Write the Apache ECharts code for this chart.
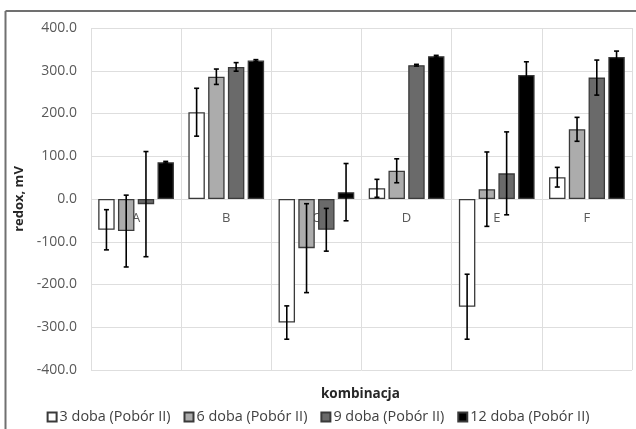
<!DOCTYPE html>
<html>
<head>
<meta charset="utf-8">
<script src="https://cdn.jsdelivr.net/npm/echarts@6/dist/echarts.min.js"></script>
<style>html,body{margin:0;padding:0;background:#fff}#c{width:636px;height:429px}</style>
</head>
<body>
<div id="c"></div>
<script>
var categories = ['A', 'B', 'C', 'D', 'E', 'F'];
var seriesNames = ['3 doba (Pobór II)', '6 doba (Pobór II)', '9 doba (Pobór II)', '12 doba (Pobór II)'];
var doba3 = [-72, 203, -289, 25, -252, 51];
var doba3Err = [47, 56, 39, 21, 76, 23];
var doba6 = [-75, 286, -115, 66, 23, 163];
var doba6Err = [84, 18, 104, 28, 87, 28];
var doba9 = [-12, 309, -72, 313, 60, 284];
var doba9Err = [123, 10, 50, 2, 97, 41];
var doba12 = [86, 324, 16, 334, 290, 332];
var doba12Err = [2, 2, 67, 2, 31, 14];
var yTicks = [-400, -300, -200, -100, 0, 100, 200, 300, 400];

var values = [doba3, doba6, doba9, doba12];
var errors = [doba3Err, doba6Err, doba9Err, doba12Err];
var fills = ['#ffffff', '#acacac', '#6a6a6a', '#000000'];
var FONT = 'Open Sans';
var CAT_GAP = 0.16, BAR_GAP = 0.2, N = 4;
var GRID_TOP = 28, GRID_BOTTOM = 59, H = 429;

var chart = echarts.init(document.getElementById('c'));
var series = [];
values.forEach(function (v, i) {
  series.push({
    name: seriesNames[i], type: 'bar', data: v,
    barCategoryGap: '16%', barGap: '20%',
    itemStyle: { color: fills[i], borderColor: '#3a3a3a', borderWidth: 1.3 },
    z: 2
  });
});
errors.forEach(function (e, i) {
  var data = categories.map(function (c, k) { return [k, values[i][k], e[k]]; });
  series.push({
    name: 'err' + i, type: 'custom', z: 5,
    data: data,
    renderItem: function (params, api) {
      var k = api.value(0), v = api.value(1), er = api.value(2);
      var bandW = api.size([1, 0])[0];
      var usable = bandW * (1 - CAT_GAP);
      var bw = usable / (N + (N - 1) * BAR_GAP);
      var c = api.coord([k, v]);
      var x = c[0] - usable / 2 + bw / 2 + i * bw * (1 + BAR_GAP);
      var yt = api.coord([k, v + er])[1];
      var yb = api.coord([k, v - er])[1];
      var st = { stroke: '#000', lineWidth: 1.6 };
      return { type: 'group', children: [
        { type: 'line', shape: { x1: x, y1: yt, x2: x, y2: yb }, style: st },
        { type: 'line', shape: { x1: x - 2.5, y1: yt, x2: x + 2.5, y2: yt }, style: st },
        { type: 'line', shape: { x1: x - 2.5, y1: yb, x2: x + 2.5, y2: yb }, style: st }
      ]};
    }
  });
});

// the category axis sits on the zero line (Excel style): shift it up by the
// distance from the plot bottom to y = 0
var plotH = H - GRID_TOP - GRID_BOTTOM;
var zeroShift = plotH * (0 - yTicks[0]) / (yTicks[yTicks.length - 1] - yTicks[0]);

chart.setOption({
  animation: false,
  backgroundColor: '#fff',
  grid: { left: 91, right: 4, top: GRID_TOP, bottom: GRID_BOTTOM },
  xAxis: {
    type: 'category', data: categories,
    offset: -zeroShift,
    axisLine: { show: false, onZero: false },
    axisTick: { show: false },
    axisLabel: { color: '#595959', fontFamily: FONT, fontSize: 13, margin: 13 },
    splitLine: { show: true, lineStyle: { color: '#dedede', width: 1 } }
  },
  yAxis: {
    type: 'value', min: yTicks[0], max: yTicks[yTicks.length - 1], interval: 100,
    name: 'redox, mV', nameLocation: 'middle', nameGap: 53,
    nameTextStyle: { color: '#262626', fontFamily: FONT, fontSize: 13, fontWeight: 'bold' },
    axisLabel: { color: '#595959', fontFamily: FONT, fontSize: 14, margin: 14,
      formatter: function (v) { return v.toFixed(1); } },
    axisLine: { show: false }, axisTick: { show: false },
    splitLine: { lineStyle: { color: '#dedede', width: 1 } }
  },
  legend: {
    data: seriesNames, top: 405, left: 'center',
    itemWidth: 9, itemHeight: 9, itemGap: 13, icon: 'rect',
    textStyle: { color: '#404040', fontFamily: FONT, fontSize: 14.4, padding: [0, 0, 0, -2] }
  },
  graphic: [
    { type: 'line', shape: { x1: 5.5, y1: 11, x2: 636, y2: 11 }, style: { stroke: '#707070', lineWidth: 2 } },
    { type: 'line', shape: { x1: 5.5, y1: 11, x2: 5.5, y2: 429 }, style: { stroke: '#707070', lineWidth: 2 } },
    { type: 'text', left: 321, top: 387, style: { text: 'kombinacja', fill: '#262626', font: 'bold 13.5px "Open Sans"' } }
  ],
  series: series
});
</script>
</body>
</html>
